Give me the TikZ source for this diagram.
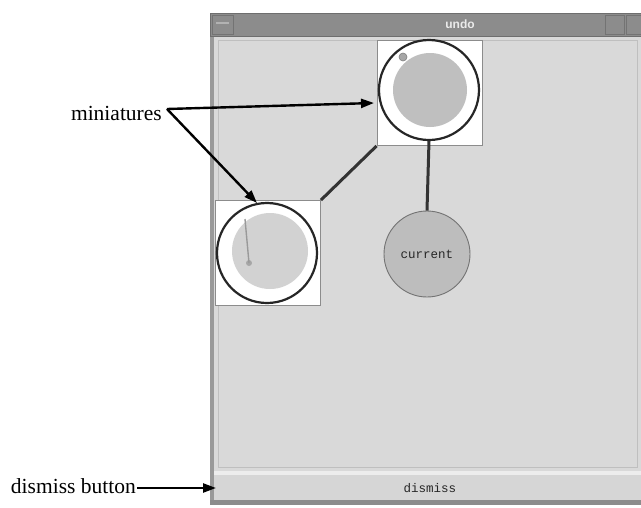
\documentclass[tikz,border=0pt]{standalone}
\usepackage{fontspec}
\setmainfont{Liberation Serif}
\newfontfamily\monof{Liberation Mono}
\newfontfamily\titlef{Liberation Sans}
\usetikzlibrary{arrows.meta}
\definecolor{winbody}{HTML}{D9D9D9}
\definecolor{winbar}{HTML}{8C8C8C}
\definecolor{winedge}{HTML}{6E6E6E}
\definecolor{dialgray}{HTML}{BFBFBF}
\definecolor{dialpale}{HTML}{D2D2D2}
\definecolor{curfill}{HTML}{BDBDBD}
\tikzset{
  minibox/.style={draw=black!45, fill=white, line width=0.8pt, minimum size=105pt, inner sep=0pt},
  dialring/.style={circle, draw=black!85, line width=2.2pt, minimum size=100pt, inner sep=0pt},
  link/.style={draw=black!80, line width=3pt},
  callout/.style={line width=2.4pt, -{Triangle[length=13pt,width=9pt]}},
  labeltext/.style={font=\fontsize{21.5}{24}\selectfont, inner sep=1pt},
  guitext/.style={font=\monof\fontsize{12.5}{14}\selectfont, text=black!85},
}
\begin{document}
\begin{tikzpicture}[x=1pt,y=-1pt]
\useasboundingbox (0,0) rectangle (641,507);
% window frame
\fill[winbody] (210,13) rectangle (641,505);
\fill[black!40] (210,36) rectangle (214,505);
% title bar
\draw[fill=winbar, draw=winedge, line width=1pt] (210.5,13.5) rectangle (641,36);
\draw[draw=black!55, line width=0.8pt] (212,15) rectangle (233,34);
\draw[draw=black!30, line width=1.5pt] (216,23) -- (229,23);
\draw[draw=black!55, line width=0.8pt] (605,15) rectangle (624,34);
\draw[draw=black!55, line width=0.8pt] (626,15) rectangle (641,34);
\node[font=\titlef\bfseries\fontsize{12}{14}\selectfont, text=white!92!black] (title) at (460,24) {undo};
% canvas border
\draw[draw=white!75!black, line width=0.6pt] (218,40) rectangle (637,467);
% dismiss button
\fill[white!93!black] (214,471) rectangle (641,475);
\fill[white!84!black] (214,475) rectangle (641,500);
\fill[black!45] (210,500) rectangle (641,505);
\node[guitext] (dismiss) at (430,488) {dismiss};

% miniature boxes
\node[minibox] (topbox) at (429.5,93) {};
\node[minibox] (lowbox) at (268,253) {};
% history links
\draw[link] (topbox.south west) -- (lowbox.north east);

% upper miniature dial
\node[circle, fill=dialgray, minimum size=74pt, inner sep=0pt] (topface) at (430,90) {};
\node[dialring] (topdial) at (429,90) {};
\node[circle, fill=black!35, draw=black!50, line width=0.6pt, minimum size=8pt, inner sep=0pt] (topknob) at (403,57) {};

% lower miniature dial
\node[circle, fill=dialpale, minimum size=76pt, inner sep=0pt] (lowface) at (270,251) {};
\node[dialring] (lowdial) at (267,253) {};
\node[circle, fill=black!35, minimum size=6pt, inner sep=0pt] (lowknob) at (249,263) {};
\coordinate (needletop) at (245,219);
\draw[draw=black!40, line width=1.4pt] (needletop) -- (lowknob.center);

% current state
\node[circle, fill=curfill, draw=black!55, line width=0.9pt, minimum size=86pt, inner sep=0pt, guitext] (current) at (427,254) {current};
\draw[link] (topdial.south) -- (current.north);

% annotations
\node[labeltext, anchor=east] (minilabel) at (163,113) {miniatures};
\node[labeltext, anchor=east] (dismisslabel) at (137,486) {dismiss button};
\coordinate (minifrom) at (167,109);
\coordinate (toptarget) at (374,103);
\coordinate (lowtarget) at (257,203);
\coordinate (dismisstarget) at (216,488);
\draw[callout] (minifrom) -- (toptarget);
\draw[callout] (minifrom) -- (lowtarget);
\draw[callout] (dismisslabel.east |- dismisstarget) -- (dismisstarget);
\end{tikzpicture}
\end{document}
